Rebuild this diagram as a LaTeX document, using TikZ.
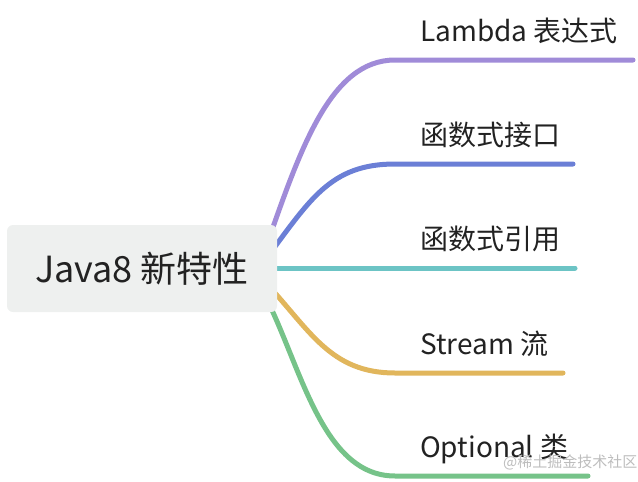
\documentclass[tikz,border=0pt]{standalone}
\usepackage{fontspec}
\setmainfont{Noto Sans CJK SC}
\usetikzlibrary{backgrounds}
\definecolor{rootfill}{HTML}{EEF0EF}
\definecolor{txt}{HTML}{222222}
\definecolor{cpurple}{HTML}{A08BD8}
\definecolor{cblue}{HTML}{6B7FD6}
\definecolor{cteal}{HTML}{6CC4C5}
\definecolor{cgold}{HTML}{E1B65C}
\definecolor{cgreen}{HTML}{76C389}
\definecolor{wmark}{HTML}{BDBDBD}
\tikzset{
  rootbox/.style={fill=rootfill, rounded corners=6pt, minimum width=270pt, minimum height=87pt, inner sep=0pt, text=txt, font=\fontsize{36}{40}\selectfont},
  leaf/.style={anchor=base west, inner sep=0pt, text=txt, font=\fontsize{28}{32}\selectfont},
  branch/.style={line width=5pt, line cap=round},
  wm/.style={inner sep=0pt, text=wmark, font=\fontsize{15}{17}\selectfont}
}
\begin{document}
\begin{tikzpicture}[x=1pt, y=-1pt]
\useasboundingbox (0,0) rectangle (638,482);
\node[rootbox] (root) at (142,268.5) {Java8 新特性};
% leaf labels
\node[leaf] (l1) at (420,41) {Lambda 表达式};
\node[leaf] (l2) at (420,145) {函数式接口};
\node[leaf] (l3) at (420,249) {函数式引用};
\node[leaf] (l4) at (420,354) {Stream 流};
\node[leaf] (l5) at (420,457) {Optional 类};
% branch line endpoints
\coordinate (s1) at (265,250);
\coordinate (s2) at (265,260);
\coordinate (s3) at (265,268);
\coordinate (s4) at (265,282);
\coordinate (s5) at (262,290);
\coordinate (k1) at (395,60);  \coordinate (e1) at (633,60);
\coordinate (k2) at (395,164); \coordinate (e2) at (573,164);
\coordinate (e3) at (575,268);
\coordinate (k4) at (395,373); \coordinate (e4) at (563,373);
\coordinate (k5) at (395,476); \coordinate (e5) at (588,476);
\begin{scope}[on background layer]
\draw[branch, cpurple] (s1) .. controls (300,150) and (330,60) .. (k1) -- (e1);
\draw[branch, cblue] (s2) .. controls (310,200) and (330,164) .. (k2) -- (e2);
\draw[branch, cteal] (s3) -- (e3);
\draw[branch, cgold] (s4) .. controls (310,330) and (330,373) .. (k4) -- (e4);
\draw[branch, cgreen] (s5) .. controls (300,360) and (320,476) .. (k5) -- (e5);
\end{scope}
\node[wm, anchor=west] (wmk) at (503,462) {@稀土掘金技术社区};
\end{tikzpicture}
\end{document}
